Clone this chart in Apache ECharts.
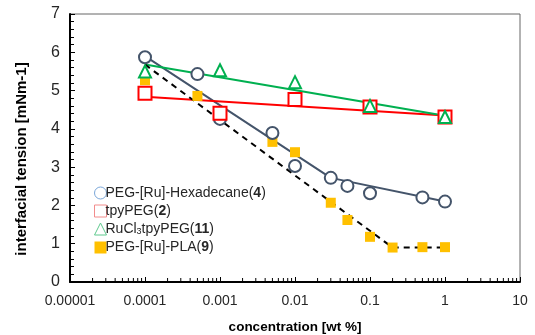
<!DOCTYPE html>
<html>
<head>
<meta charset="utf-8">
<script src="https://cdn.jsdelivr.net/npm/echarts@6/dist/echarts.min.js"></script>
<style>
  html, body { margin: 0; padding: 0; background: #fff; }
  #chart { width: 535px; height: 335px; }
</style>
</head>
<body>
<div id="chart"></div>
<script>
// measured points, [concentration wt %, tension mNm-1]
const hexadecane = [[0.0001, 5.87], [0.0005, 5.43], [0.001, 4.26], [0.005, 3.89], [0.01, 3.03],
  [0.03, 2.72], [0.05, 2.51], [0.1, 2.32], [0.5, 2.21], [1, 2.1]];
const tpyPeg = [[0.0001, 4.93], [0.001, 4.41], [0.01, 4.77], [0.1, 4.57], [1, 4.31]];
const rucl3 = [[0.0001, 5.5], [0.001, 5.53], [0.01, 5.22], [0.1, 4.6], [1, 4.31]];
const pla = [[0.0001, 5.27], [0.0005, 4.86], [0.001, 4.31], [0.005, 3.66], [0.01, 3.39],
  [0.03, 2.07], [0.05, 1.62], [0.1, 1.18], [0.2, 0.9], [0.5, 0.91], [1, 0.91]];

// fitted trend lines
const hexadecaneFit = [[0.0001, 5.9], [0.03, 2.72], [1, 2.1]];
const tpyPegFit = [[0.0001, 4.84], [1, 4.35]];
const rucl3Fit = [[0.0001, 5.68], [1, 4.34]];
const plaFit = [[0.0001, 5.68], [0.2, 0.9], [1, 0.9]];

const xTickLabels = ['0.00001', '0.0001', '0.001', '0.01', '0.1', '1', '10'];
const xMinorTicks = [];
for (let e = -5; e < 1; e++) {
  for (let m = 2; m <= 9; m++) xMinorTicks.push([m * Math.pow(10, e), 0]);
}

const font = 'Liberation Sans, Arial, sans-serif';
const rich = {
  n: {fontSize: 14, color: '#262626', fontFamily: font},
  b: {fontSize: 14, color: '#262626', fontWeight: 'bold', fontFamily: font},
  s: {fontSize: 9, color: '#262626', fontFamily: font, verticalAlign: 'bottom', padding: [6, 0, 0, 0]}
};
const legendText = {
  'PEG-[Ru]-Hexadecane(4)': '{n|PEG-[Ru]-Hexadecane(}{b|4}{n|)}',
  'tpyPEG(2)': '{n|tpyPEG(}{b|2}{n|)}',
  'RuCl3tpyPEG(11)': '{n|RuCl}{s|3}{n|tpyPEG(}{b|11}{n|)}',
  'PEG-[Ru]-PLA(9)': '{n|PEG-[Ru]-PLA(}{b|9}{n|)}'
};

const chart = echarts.init(document.getElementById('chart'));

const fitLine = (data, color, type) => ({
  type: 'line', data, symbol: 'none', silent: true, z: 1,
  lineStyle: {color, width: 2, type: type || 'solid'}
});

chart.setOption({
  animation: false,
  grid: {left: 70, right: 15, top: 14, bottom: 53, outerBoundsMode: 'none',
    show: true, borderColor: '#666', borderWidth: 1},
  legend: {
    orient: 'vertical', left: 89, top: 181, itemGap: 4, itemWidth: 12, itemHeight: 12,
    textStyle: {rich, fontFamily: font, padding: [0, 0, 0, -6]},
    formatter: name => legendText[name],
    data: [
      {name: 'PEG-[Ru]-Hexadecane(4)', icon: 'circle', itemStyle: {color: '#fff', borderColor: '#7aa6d8', borderWidth: 1}},
      {name: 'tpyPEG(2)', icon: 'rect', itemStyle: {color: '#fff', borderColor: '#f28c8c', borderWidth: 1}},
      {name: 'RuCl3tpyPEG(11)', icon: 'triangle', itemStyle: {color: '#fff', borderColor: '#5fc98e', borderWidth: 1}},
      {name: 'PEG-[Ru]-PLA(9)', icon: 'path://M1,1L9,1L9,9L1,9Z', itemStyle: {color: '#FFC000'}}
    ]
  },
  xAxis: {
    type: 'log', logBase: 10, min: 0.00001, max: 10,
    name: 'concentration [wt %]', nameLocation: 'middle', nameGap: 38,
    nameTextStyle: {fontSize: 13.5, fontWeight: 'bold', color: '#000', fontFamily: font},
    axisLine: {lineStyle: {color: '#000', width: 2}},
    axisTick: {inside: true, length: 5, lineStyle: {color: '#000'}},
    splitLine: {show: false},
    axisLabel: {
      fontSize: 14, color: '#262626', fontFamily: font, margin: 12,
      formatter: v => xTickLabels[Math.round(Math.log10(v)) + 5]
    }
  },
  yAxis: {
    type: 'value', min: 0, max: 7, interval: 1,
    name: 'interfacial tension [mNm-1]', nameLocation: 'middle', nameGap: 41,
    nameTextStyle: {fontSize: 15, fontWeight: 'bold', color: '#000', fontFamily: font, padding: [0, 22, 0, 0]},
    axisLine: {show: true, lineStyle: {color: '#000', width: 2}},
    axisTick: {show: true, inside: true, length: 5, lineStyle: {color: '#000'}},
    minorTick: {show: true, splitNumber: 5, length: 4, lineStyle: {color: '#000'}},
    splitLine: {show: false},
    axisLabel: {fontSize: 16, color: '#262626', fontFamily: font, margin: 10}
  },
  series: [
    fitLine(hexadecaneFit, '#44546A'),
    fitLine(tpyPegFit, '#FF0000'),
    fitLine(rucl3Fit, '#00B050'),
    fitLine(plaFit, '#000', [6, 5]),
    {
      type: 'custom', silent: true, z: 5, data: xMinorTicks,
      renderItem: (params, api) => {
        const p = api.coord([api.value(0), api.value(1)]);
        return {type: 'line', shape: {x1: p[0], y1: p[1], x2: p[0], y2: p[1] - 4},
          style: {stroke: '#000', lineWidth: 1}};
      }
    },
    {
      name: 'PEG-[Ru]-PLA(9)', type: 'scatter', data: pla, symbol: 'rect', symbolSize: 10, z: 3,
      itemStyle: {color: '#FFC000', opacity: 1}
    },
    {
      name: 'PEG-[Ru]-Hexadecane(4)', type: 'scatter', data: hexadecane, symbol: 'emptyCircle', symbolSize: 12, z: 4,
      itemStyle: {color: '#44546A', borderColor: '#44546A', borderWidth: 2, opacity: 1}
    },
    {
      name: 'tpyPEG(2)', type: 'scatter', data: tpyPeg, symbol: 'emptyRect', symbolSize: 13, z: 4,
      itemStyle: {color: '#FF0000', borderColor: '#FF0000', borderWidth: 2, opacity: 1}
    },
    {
      name: 'RuCl3tpyPEG(11)', type: 'scatter', data: rucl3, symbol: 'emptyTriangle', symbolSize: 12, z: 4,
      itemStyle: {color: '#00B050', borderColor: '#00B050', borderWidth: 2, opacity: 1}
    }
  ]
});
</script>
</body>
</html>
